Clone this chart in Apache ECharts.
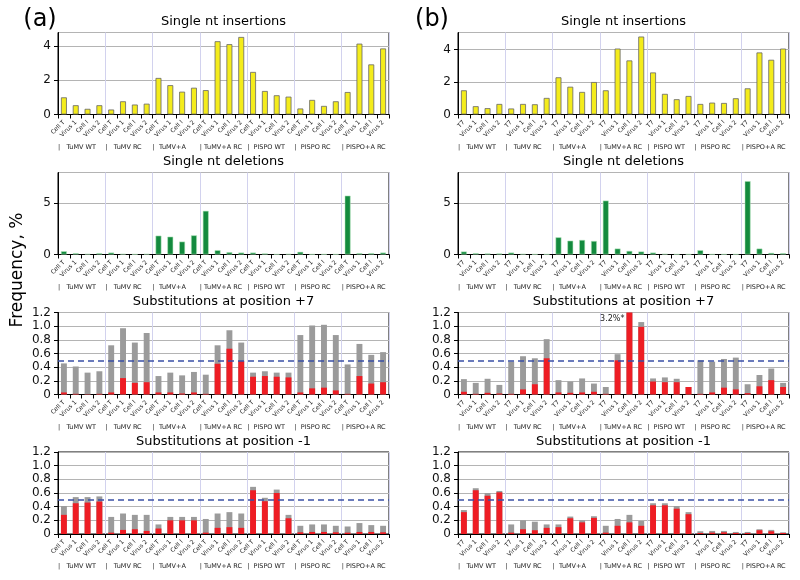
<!DOCTYPE html>
<html><head><meta charset="utf-8">
<script src="https://cdn.jsdelivr.net/npm/echarts@6/dist/echarts.min.js"></script>
<style>html,body{margin:0;padding:0;background:#fff}#c{width:800px;height:580px}</style>
</head><body><div id="c"></div>
<script>
const catsA = ['Cell T','Virus 1','Cell I','Virus 2','Cell T','Virus 1','Cell I','Virus 2','Cell T','Virus 1','Cell I','Virus 2','Cell T','Virus 1','Cell I','Virus 2','Cell T','Virus 1','Cell I','Virus 2','Cell T','Virus 1','Cell I','Virus 2','Cell T','Virus 1','Cell I','Virus 2'];
const catsB = ['T7','Virus 1','Cell I','Virus 2','T7','Virus 1','Cell I','Virus 2','T7','Virus 1','Cell I','Virus 2','T7','Virus 1','Cell I','Virus 2','T7','Virus 1','Cell I','Virus 2','T7','Virus 1','Cell I','Virus 2','T7','Virus 1','Cell I','Virus 2'];
const groupLabels = ['|   TuMV WT','|   TuMV RC','|  TuMV+A','| TuMV+A RC','|  PISPO WT','|  PISPO RC','| PISPO+A RC',''];
const titles = ['Single nt insertions','Single nt deletions','Substitutions at position +7','Substitutions at position -1'];

// Panel (a)
const insA = [1.00,0.54,0.33,0.54, 0.29,0.77,0.58,0.63, 2.13,1.71,1.33,1.56, 1.42,4.27,4.10,4.52, 2.48,1.37,1.12,1.04, 0.35,0.85,0.50,0.77, 1.31,4.13,2.92,3.85];
const delA = [0.32,0.13,0.06,0.13, 0.19,0.06,0.03,0.06, 1.84,1.74,1.26,1.87, 4.26,0.42,0.23,0.19, 0.19,0.10,0.03,0.06, 0.26,0.03,0.03,0.03, 5.74,0.13,0.13,0.19];
const p7TotA = [0.455,0.41,0.32,0.34, 0.72,0.97,0.76,0.90, 0.27,0.32,0.28,0.33, 0.29,0.72,0.94,0.76, 0.32,0.34,0.32,0.32, 0.87,1.01,1.02,0.87, 0.44,0.74,0.58,0.62];
const p7RedA = [0.03,0.01,0.005,0.01, 0.03,0.24,0.17,0.18, 0.03,0.03,0.015,0.03, 0.01,0.45,0.67,0.49, 0.26,0.27,0.26,0.25, 0.03,0.09,0.10,0.06, 0.01,0.27,0.16,0.18];
const m1TotA = [0.41,0.54,0.54,0.55, 0.25,0.30,0.28,0.28, 0.14,0.25,0.25,0.25, 0.22,0.30,0.32,0.30, 0.69,0.53,0.65,0.28, 0.12,0.14,0.14,0.12, 0.11,0.16,0.13,0.12];
const m1RedA = [0.28,0.45,0.46,0.475, 0.02,0.06,0.07,0.045, 0.08,0.20,0.20,0.20, 0.02,0.09,0.10,0.09, 0.64,0.48,0.60,0.23, 0.025,0.03,0.03,0.025, 0.02,0.03,0.03,0.025];

// Panel (b)
const insB = [1.49,0.51,0.39,0.65, 0.37,0.65,0.63,1.02, 2.29,1.71,1.39,2.00, 1.49,4.06,3.33,4.80, 2.59,1.27,0.94,1.14, 0.65,0.73,0.71,1.00, 1.61,3.82,3.37,4.06];
const delB = [0.29,0.13,0.10,0.10, 0.19,0.06,0.03,0.03, 1.68,1.35,1.42,1.32, 5.26,0.58,0.35,0.29, 0.19,0.06,0.03,0.03, 0.42,0.03,0.03,0.03, 7.16,0.58,0.16,0.13];
const p7TotB = [0.225,0.17,0.23,0.14, 0.48,0.56,0.53,0.81, 0.21,0.19,0.235,0.16, 0.11,0.59,3.2,1.06, 0.235,0.25,0.23,0.11, 0.50,0.48,0.52,0.54, 0.15,0.285,0.38,0.17];
const p7RedB = [0.04,0.01,0.025,0.015, 0.01,0.075,0.15,0.53, 0.03,0.025,0.03,0.04, 0.01,0.50,3.1,0.99, 0.19,0.18,0.18,0.11, 0.01,0.03,0.10,0.075, 0.02,0.12,0.21,0.11];
const m1TotB = [0.35,0.67,0.60,0.63, 0.14,0.20,0.18,0.14, 0.14,0.255,0.20,0.26, 0.12,0.22,0.28,0.19, 0.45,0.45,0.41,0.32, 0.04,0.045,0.045,0.03, 0.03,0.07,0.06,0.025];
const m1RedB = [0.32,0.64,0.56,0.61, 0.02,0.07,0.055,0.09, 0.10,0.23,0.17,0.235, 0.02,0.12,0.17,0.12, 0.42,0.42,0.37,0.29, 0.015,0.02,0.025,0.015, 0.015,0.055,0.04,0.015];

const threshold = 0.5;
const clippedIndex = 14;

const FONT = 'DejaVu Sans';
const panels = [
  {tag:'(a)', tagX:40, left:58, cats:catsA, ins:insA, insMax:4.78, del:delA, p7Tot:p7TotA, p7Red:p7RedA, m1Tot:m1TotA, m1Red:m1RedA},
  {tag:'(b)', tagX:432, left:458, cats:catsB, ins:insB, insMax:5.05, del:delB, p7Tot:p7TotB, p7Red:p7RedB, m1Tot:m1TotB, m1Red:m1RedB, note:true}
];
const rowTops = [32.5, 172.5, 312.5, 452];
const W = 331, H = 82;

const grid = [], xAxis = [], yAxis = [], series = [], graphic = [];

panels.forEach((p, pi) => {
  graphic.push({type:'text', x:p.tagX, y:20, style:{text:p.tag, font:'24px "DejaVu Sans"', fill:'#000', textAlign:'center', textVerticalAlign:'middle'}});
  for (let r = 0; r < 4; r++) {
    const gi = pi*4 + r;
    grid.push({left:p.left, top:rowTops[r], width:W, height:H, show:true, borderColor:'#000', borderWidth:1, backgroundColor:'transparent', containLabel:false, outerBoundsMode:'none'});
    graphic.push({type:'text', x:p.left + W/2, y:rowTops[r]-10.5, style:{text:titles[r], font:'13px "DejaVu Sans"', fill:'#000', textAlign:'center', textVerticalAlign:'middle'}});
    xAxis.push({type:'category', gridIndex:gi, data:p.cats, boundaryGap:true,
      axisLine:{show:true, lineStyle:{color:'#000', width:1}},
      axisTick:{show:true, interval:0, length:4, lineStyle:{color:'#000'}},
      axisLabel:{interval:0, rotate:45, fontSize:6, color:'#222', margin:7, fontFamily:FONT},
      splitLine:{show:true, interval:(i)=> i%4===0, lineStyle:{color:'#d2d2ee', width:1}}});
    xAxis.push({type:'category', gridIndex:gi, data:groupLabels, boundaryGap:false, position:'bottom', offset:29,
      axisLine:{show:false}, axisTick:{show:false}, splitLine:{show:false},
      axisLabel:{interval:0, align:'left', fontSize:6.5, color:'#222', margin:0, fontFamily:FONT}});
    const isSub = r >= 2;
    const ya = {type:'value', gridIndex:gi, min:0,
      axisLine:{show:true, lineStyle:{color:'#000'}},
      axisTick:{show:true, length:4, lineStyle:{color:'#000'}},
      axisLabel:{fontSize:12, color:'#111', margin:7, fontFamily:FONT},
      splitLine:{show:true, lineStyle:{color:'#b4b4b4', width:1.2}}};
    if (r === 0) { ya.max = p.insMax; ya.interval = 2; ya.axisLabel.showMaxLabel = false; }
    if (r === 1) { ya.max = 8; ya.interval = 5; ya.axisLabel.showMaxLabel = false; }
    if (isSub) { ya.max = 1.2; ya.interval = 0.2; ya.axisLabel.formatter = v => v === 0 ? '0' : v.toFixed(1); }
    yAxis.push(ya);

    const xi = gi*2;
    if (r === 0) {
      series.push({type:'bar', xAxisIndex:xi, yAxisIndex:gi, data:p.ins, barWidth:'50%',
        itemStyle:{color:'#f4ec1c', borderColor:'#666', borderWidth:0.8}});
    } else if (r === 1) {
      series.push({type:'bar', xAxisIndex:xi, yAxisIndex:gi, data:p.del, barWidth:'50%',
        itemStyle:{color:'#138a3e', borderColor:'rgba(180,230,190,0.9)', borderWidth:0.6}});
    } else {
      const tot = r === 2 ? p.p7Tot : p.m1Tot;
      const red = r === 2 ? p.p7Red : p.m1Red;
      series.push({type:'bar', xAxisIndex:xi, yAxisIndex:gi, data:tot, barWidth:'50%', barGap:'-100%', clip:true,
        itemStyle:{color:'#9b9b9b'}});
      const rs = {type:'bar', xAxisIndex:xi, yAxisIndex:gi, data:red, barWidth:'50%', barGap:'-100%', clip:true,
        itemStyle:{color:'#ee1d24'},
        markLine:{silent:true, symbol:['none','none'], label:{show:false},
          lineStyle:{color:'#3a50a6', type:[6,4], width:1.6}, data:[{yAxis:threshold}]}};
      if (r === 2 && p.note) {
        rs.markPoint = {silent:true, symbol:'rect', symbolSize:0,
          data:[{coord:[clippedIndex, 1.2], label:{show:true, position:'left', distance:5, offset:[0,6],
            formatter: tot[clippedIndex].toFixed(1) + '%*', fontSize:8, color:'#222', fontFamily:FONT}}]};
      }
      series.push(rs);
    }
  }
});

graphic.push({type:'text', x:18, y:270, rotation:Math.PI/2, style:{text:'Frequency, %', font:'17px "DejaVu Sans"', fill:'#000', textAlign:'center', textVerticalAlign:'middle'}});

const chart = echarts.init(document.getElementById('c'), null, {renderer:'canvas'});
chart.setOption({
  animation:false,
  backgroundColor:'#fff',
  textStyle:{fontFamily:FONT},
  grid, xAxis, yAxis, series, graphic
});
</script>
</body></html>
